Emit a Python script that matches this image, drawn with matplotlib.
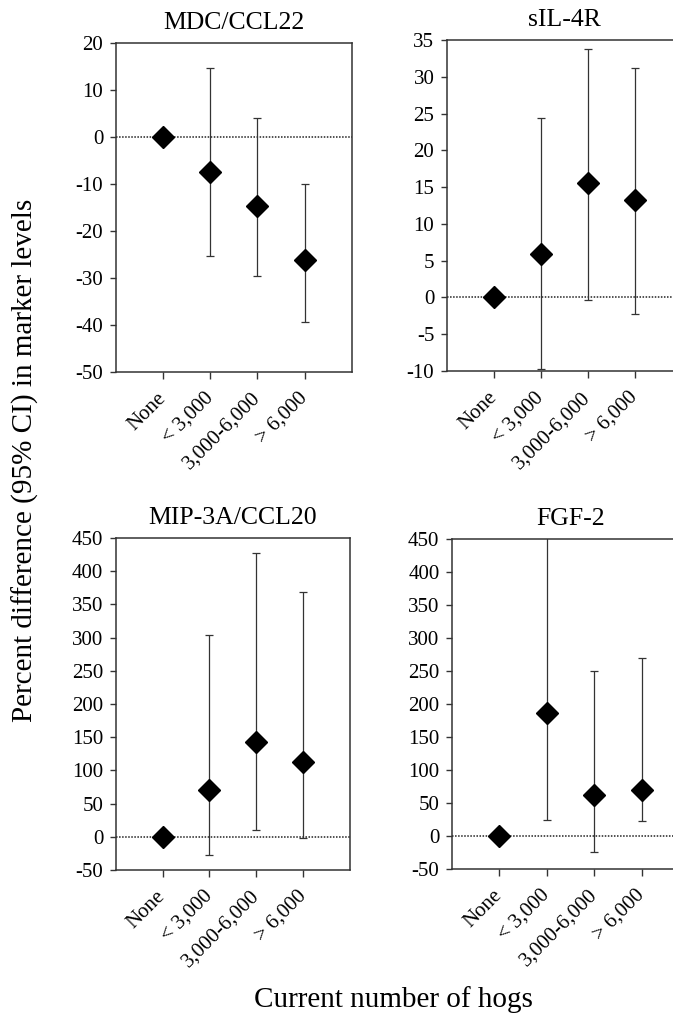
import matplotlib
matplotlib.use("Agg")
import matplotlib.pyplot as plt
import numpy as np

plt.rcParams['font.family'] = ['Liberation Serif', 'DejaVu Serif']
plt.rcParams['axes.unicode_minus'] = False

categories = ["None", "< 3,000", "3,000-6,000", "> 6,000"]

# percent difference and 95% CI per marker
mdc_est = [0, -7.4, -14.6, -26.1]
mdc_low = [0, -25.4, -29.6, -39.3]
mdc_high = [0, 14.6, 4.0, -10.0]

sil_est = [0, 5.9, 15.5, 13.2]
sil_low = [0, -9.7, -0.3, -2.2]
sil_high = [0, 24.4, 33.8, 31.2]

mip_est = [0, 71, 142, 113]
mip_low = [0, -28, 10, -2]
mip_high = [0, 304, 428, 369]

fgf_est = [0, 187, 62, 70]
fgf_low = [0, 24, -25, 22]
fgf_high = [0, 520, 250, 269]

panels = [
    ("MDC/CCL22", mdc_est, mdc_low, mdc_high, (-50, 20), 10, [0.172, 0.6357, 0.351, 0.3223]),
    ("sIL-4R", sil_est, sil_low, sil_high, (-10, 35), 5, [0.664, 0.6366, 0.349, 0.3242]),
    ("MIP-3A/CCL20", mip_est, mip_low, mip_high, (-50, 450), 50, [0.172, 0.1479, 0.348, 0.3252]),
    ("FGF-2", fgf_est, fgf_low, fgf_high, (-50, 450), 50, [0.6716, 0.1489, 0.3529, 0.3232]),
]

fig = plt.figure(figsize=(6.73, 10.21), dpi=100)

for title, est, low, high, ylim, step, rect in panels:
    ax = fig.add_axes(rect)
    x = np.arange(1, len(categories) + 1)
    est = np.array(est)
    err = np.array([est - np.array(low), np.array(high) - est])
    ax.axhline(0, color='#222222', lw=1.1, ls=(0, (1, 1)), zorder=1)
    ax.errorbar(x, est, yerr=err, fmt='none', ecolor='#333333', elinewidth=0.9,
                capsize=2.6, capthick=0.9, zorder=2)
    ax.plot(x, est, 'D', color='black', ms=11, zorder=3, clip_on=False)
    ax.set_xlim(0, 5)
    ax.set_ylim(*ylim)
    ax.set_yticks(np.arange(ylim[0], ylim[1] + step / 2, step))
    ax.set_xticks(x)
    ax.set_xticklabels(categories, rotation=45, ha='right', va='center',
                       rotation_mode='anchor')
    ax.tick_params(axis='both', direction='out', labelsize=15, length=4, width=1,
                   color='#333333')
    ax.tick_params(axis='y', pad=5)
    ax.tick_params(axis='x', pad=12, length=5)
    for s in ax.spines.values():
        s.set_color('#333333')
        s.set_linewidth(1.1)
    ax.set_title(title, fontsize=18.5, pad=10)

fig.text(0.038, 0.549, "Percent difference (95% CI) in marker levels",
         rotation=90, ha='center', va='center', fontsize=21)
fig.text(0.585, 0.021, "Current number of hogs", ha='center', va='center', fontsize=21)

fig.savefig("out.png", dpi=100)
